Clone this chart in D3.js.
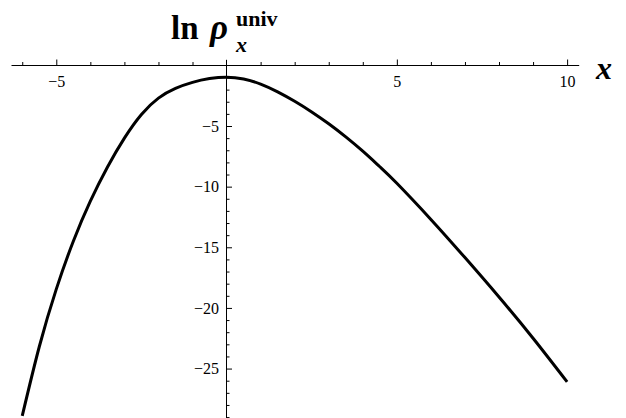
<!DOCTYPE html>
<html>
<head>
<meta charset="utf-8">
<script src="https://cdn.jsdelivr.net/npm/d3@7"></script>
<style>
  body { margin: 0; background: #fff; }
  svg text { font-family: "Liberation Serif", "DejaVu Serif", serif !important; }
</style>
</head>
<body>
<div id="chart"></div>
<script>
// values
const xVals = [-6, -5.5, -5, -4.5, -4, -3.5, -3, -2.5, -2, -1.5, -1, -0.5, 0,
  0.5, 1, 1.5, 2, 2.5, 3, 3.5, 4, 4.5, 5, 6, 7, 8, 9, 10];
const lnRho = [-28.9, -23.2, -18.45, -14.5, -11.2, -8.4, -6.0, -4.05, -2.7, -1.9, -1.4, -1.09, -0.97,
  -1.12, -1.54, -2.18, -2.96, -3.84, -4.82, -5.9, -7.08, -8.36, -9.72, -12.7, -15.85, -19.1, -22.5, -26.1];

const xMajorTicks = [-5, 5, 10];
const yMajorTicks = [-5, -10, -15, -20, -25];

const width = 626, height = 418;

const svg = d3.select("#chart")
  .append("svg")
  .attr("width", width)
  .attr("height", height)
  .style("display", "block");

const x = d3.scaleLinear().domain([-6.33, 10.34]).range([11, 578.7]);
const y = d3.scaleLinear().domain([-29.1, 0.5]).range([418.3, 59.3]);

const x0 = Math.floor(x(0));
const y0 = Math.floor(y(0));

// minor ticks every 1 unit
const xMinor = d3.range(-6, 11).filter(d => d !== 0 && !xMajorTicks.includes(d));
const yMinor = d3.range(-1, -30, -1).filter(d => !yMajorTicks.includes(d));

// x axis: ticks point up, labels below
svg.append("g")
  .attr("transform", `translate(0,${y0})`)
  .call(d3.axisBottom(x).tickValues(xMinor).tickSizeInner(-3).tickSizeOuter(0).tickFormat(""))
  .call(g => g.select(".domain").remove());

svg.append("g")
  .attr("transform", `translate(0,${y0})`)
  .call(d3.axisBottom(x).tickValues(xMajorTicks).tickSizeInner(-5.5).tickSizeOuter(0).tickPadding(11))
  .call(g => g.selectAll("text").attr("font-size", "16px"));

// y axis: ticks point right, labels left
svg.append("g")
  .attr("transform", `translate(${x0},0)`)
  .call(d3.axisLeft(y).tickValues(yMinor).tickSizeInner(-3.5).tickSizeOuter(0).tickFormat(""))
  .call(g => g.select(".domain").remove());

svg.append("g")
  .attr("transform", `translate(${x0},0)`)
  .call(d3.axisLeft(y).tickValues(yMajorTicks).tickSizeInner(-6).tickSizeOuter(0).tickPadding(7))
  .call(g => g.selectAll("text").attr("font-size", "16px"));

// the curve
const line = d3.line()
  .x((d, i) => x(xVals[i]))
  .y(d => y(d))
  .curve(d3.curveNatural);

svg.append("path")
  .datum(lnRho)
  .attr("fill", "none")
  .attr("stroke", "#000")
  .attr("stroke-width", 3)
  .attr("stroke-linejoin", "round")
  .attr("d", line);

// axis titles
svg.append("text")
  .attr("x", 171).attr("y", 39)
  .attr("font-weight", "bold").attr("font-size", "33px")
  .text("ln");
svg.append("text")
  .attr("x", 210).attr("y", 39)
  .attr("font-weight", "bold").attr("font-style", "italic").attr("font-size", "35px")
  .text("ρ");
svg.append("text")
  .attr("x", 236).attr("y", 25.5)
  .attr("font-weight", "bold").attr("font-size", "22px")
  .text("univ");
svg.append("text")
  .attr("x", 236).attr("y", 52)
  .attr("font-weight", "bold").attr("font-style", "italic").attr("font-size", "22px")
  .text("x");

svg.append("text")
  .attr("x", 596).attr("y", 79)
  .attr("font-weight", "bold").attr("font-style", "italic").attr("font-size", "32px")
  .text("x");
</script>
</body>
</html>
